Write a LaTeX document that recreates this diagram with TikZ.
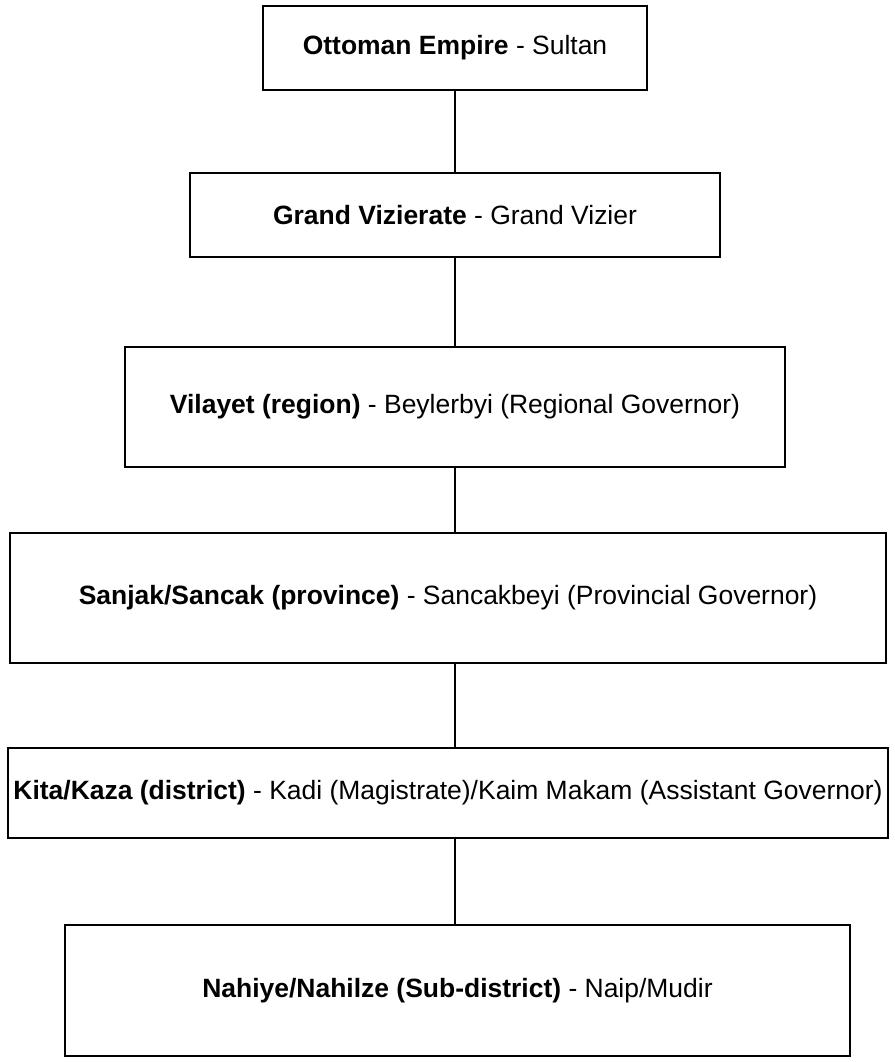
\documentclass[tikz,border=0pt]{standalone}
\usepackage{fontspec}
\setmainfont{Liberation Sans}
\usetikzlibrary{positioning}

\tikzset{
  orgbox/.style={draw, line width=0.6pt, inner sep=0pt, align=center,
    font=\fontsize{7.53pt}{9pt}\selectfont},
  link/.style={line width=0.6pt}
}

\begin{document}
\begin{tikzpicture}
  \useasboundingbox (0,0) rectangle (8.94,10.62);

  % Levels of the administration, top to bottom
  \node[orgbox, minimum width=3.84cm, minimum height=0.84cm] (sultan) at (4.55,10.14) {\textbf{Ottoman Empire} - Sultan};
  \node[orgbox, minimum width=5.30cm, minimum height=0.84cm] (vizier) at (4.55,8.47) {\textbf{Grand Vizierate} - Grand Vizier};
  \node[orgbox, minimum width=6.60cm, minimum height=1.20cm] (vilayet) at (4.55,6.55) {\textbf{Vilayet (region)} - Beylerbyi (Regional Governor)};
  \node[orgbox, minimum width=8.76cm, minimum height=1.30cm] (sanjak) at (4.48,4.64) {\textbf{Sanjak/Sancak (province)} - Sancakbeyi (Provincial Governor)};
  \node[orgbox, minimum width=8.80cm, minimum height=0.90cm] (kaza) at (4.48,2.69) {\textbf{Kita/Kaza (district)} - Kadi (Magistrate)/Kaim Makam (Assistant Governor)};
  \node[orgbox, minimum width=7.85cm, minimum height=1.31cm] (nahiye) at (4.575,0.715) {\textbf{Nahiye/Nahilze (Sub-district)} - Naip/Mudir};

  % Vertical spine joining the levels
  \coordinate (spine) at (4.55,0);
  \draw[link] (sultan.south -| spine) -- (vizier.north -| spine);
  \draw[link] (vizier.south -| spine) -- (vilayet.north -| spine);
  \draw[link] (vilayet.south -| spine) -- (sanjak.north -| spine);
  \draw[link] (sanjak.south -| spine) -- (kaza.north -| spine);
  \draw[link] (kaza.south -| spine) -- (nahiye.north -| spine);
\end{tikzpicture}
\end{document}
